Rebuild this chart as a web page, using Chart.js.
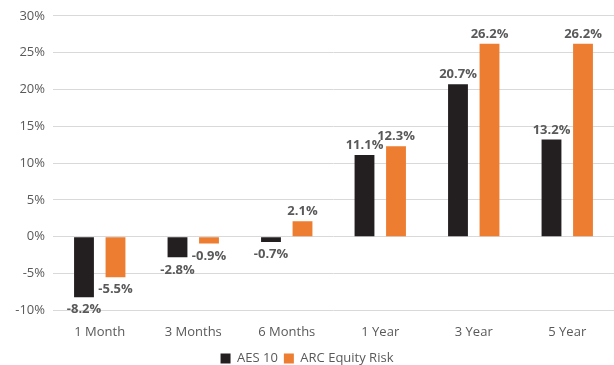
<!DOCTYPE html>
<html>
<head>
<meta charset="utf-8">
<script src="https://cdn.jsdelivr.net/npm/chart.js@4/dist/chart.umd.min.js"></script>
<style>
  html, body { margin: 0; padding: 0; background: #fff; }
  #wrap { width: 614px; height: 365px; position: relative; }
</style>
</head>
<body>
<div id="wrap"><canvas id="perfChart"></canvas></div>
<script>
// period returns, in percent
const periods = ["1 Month", "3 Months", "6 Months", "1 Year", "3 Year", "5 Year"];
const aes10 = [-8.2, -2.8, -0.7, 11.1, 20.7, 13.2];
const arcEquityRisk = [-5.5, -0.9, 2.1, 12.3, 26.2, 26.2];

const FONT = "'Open Sans', 'Liberation Sans', sans-serif";
const TEXT_GREY = "#595959";

// bold value labels above positive bars, below negative ones
const valueLabels = {
  id: "valueLabels",
  afterDatasetsDraw(chart) {
    const ctx = chart.ctx;
    ctx.save();
    ctx.font = "bold 13px " + FONT;
    ctx.fillStyle = TEXT_GREY;
    ctx.textAlign = "center";
    chart.data.datasets.forEach((ds, i) => {
      const meta = chart.getDatasetMeta(i);
      meta.data.forEach((bar, j) => {
        const v = ds.data[j];
        const txt = v.toFixed(1) + "%";
        if (v >= 0) {
          ctx.textBaseline = "bottom";
          ctx.fillText(txt, bar.x, bar.y - 3);
        } else {
          ctx.textBaseline = "top";
          ctx.fillText(txt, bar.x, bar.y + 6);
        }
      });
    });
    ctx.restore();
  },
};

new Chart(document.getElementById("perfChart"), {
  type: "bar",
  data: {
    labels: periods,
    datasets: [
      {
        label: "AES 10",
        data: aes10,
        backgroundColor: "#231F20",
        categoryPercentage: 0.674,
        barPercentage: 0.63,
      },
      {
        label: "ARC Equity Risk",
        data: arcEquityRisk,
        backgroundColor: "#ED7D31",
        categoryPercentage: 0.674,
        barPercentage: 0.63,
      },
    ],
  },
  options: {
    responsive: true,
    maintainAspectRatio: false,
    animation: false,
    layout: { padding: { top: 14, right: 0, left: 0, bottom: -10 } },
    plugins: {
      tooltip: { enabled: false },
      legend: {
        position: "bottom",
        labels: {
          boxWidth: 10,
          boxHeight: 10,
          padding: 6,
          color: TEXT_GREY,
          font: { family: FONT, size: 13 },
        },
      },
    },
    scales: {
      x: {
        grid: { display: false },
        border: { display: false },
        ticks: {
          color: TEXT_GREY,
          font: { family: FONT, size: 13 },
          padding: 6,
        },
      },
      y: {
        min: -10,
        max: 30,
        ticks: {
          stepSize: 5,
          color: TEXT_GREY,
          font: { family: FONT, size: 13 },
          padding: 8,
          callback: (v) => v + "%",
        },
        grid: { color: "#d9d9d9", drawTicks: false },
        border: { display: false },
        afterFit(scale) {
          scale.width = 53;
        },
      },
    },
  },
  plugins: [valueLabels],
});
</script>
</body>
</html>
